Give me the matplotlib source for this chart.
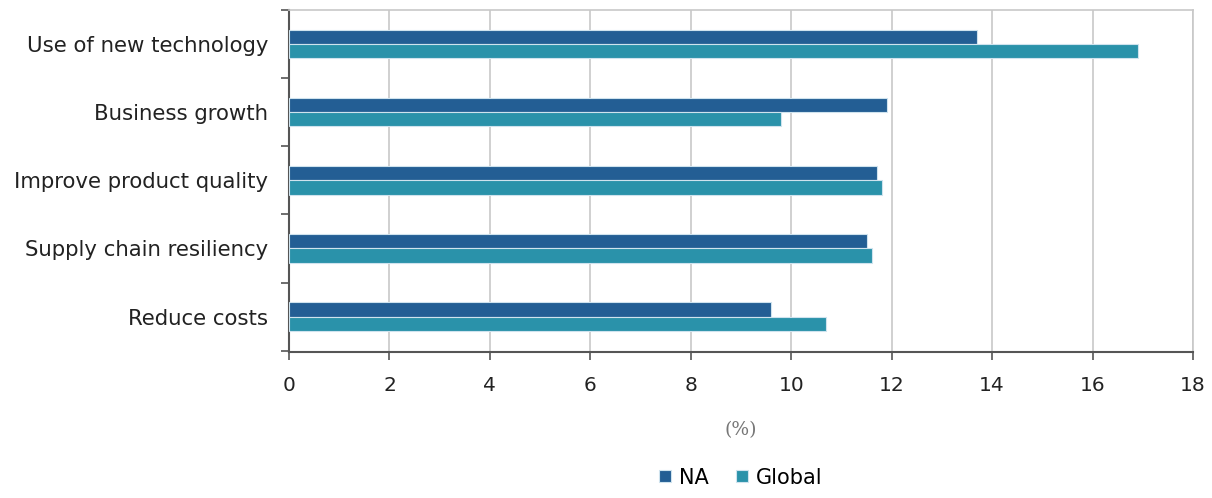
import matplotlib.pyplot as plt
import numpy as np

categories = [
    "Use of new technology",
    "Business growth",
    "Improve product quality",
    "Supply chain resiliency",
    "Reduce costs",
]
na_values = [13.7, 11.9, 11.7, 11.5, 9.6]
global_values = [16.9, 9.8, 11.8, 11.6, 10.7]
x_ticks = [0, 2, 4, 6, 8, 10, 12, 14, 16, 18]

plt.rcParams["font.family"] = ["DejaVu Sans"]

fig = plt.figure(figsize=(12.12, 4.98), dpi=100)
ax = fig.add_axes([289 / 1212, 1 - 352 / 498, 904 / 1212, 342 / 498])

y = np.arange(len(categories))[::-1].astype(float)
height = 0.21
ax.barh(y + height / 2, na_values, height=height, color="#235E94",
        edgecolor="#cfe3ee", linewidth=0.8, label="NA", zorder=3)
ax.barh(y - height / 2, global_values, height=height, color="#2A92AA",
        edgecolor="#cfe3ee", linewidth=0.8, label="Global", zorder=3)

ax.set_xlim(0, 18)
ax.set_ylim(-0.52, len(categories) - 0.5)
ax.set_xticks(x_ticks)
ax.set_xticklabels([str(t) for t in x_ticks], fontsize=14.5, color="#222222")
ax.set_yticks(y)
ax.set_yticklabels(categories, fontsize=15.3, color="#222222")
ax.tick_params(axis="y", length=0, pad=15)
ax.set_yticks(np.arange(len(categories) + 1) - 0.5, minor=True)
ax.tick_params(axis="y", which="minor", length=6, width=1.2, color="#555555")
ax.tick_params(axis="x", length=6, width=1.2, color="#555555", pad=11)

ax.grid(axis="x", color="#c8c8c8", linewidth=1.2, zorder=0)
for side in ["top", "right"]:
    ax.spines[side].set_color("#c8c8c8")
    ax.spines[side].set_linewidth(1.2)
for side in ["left", "bottom"]:
    ax.spines[side].set_color("#555555")
    ax.spines[side].set_linewidth(1.5)

ax.set_xlabel("(%)", fontsize=13.5, color="#777777", labelpad=19,
              family="DejaVu Serif")

ax.legend(loc="lower center", bbox_to_anchor=(0.5, -146 / 342), ncol=2,
          frameon=False, fontsize=15,
          handlelength=0.55, handleheight=0.55, handletextpad=0.4,
          columnspacing=1.3, borderaxespad=0.1)

fig.savefig("out.png", dpi=100)
